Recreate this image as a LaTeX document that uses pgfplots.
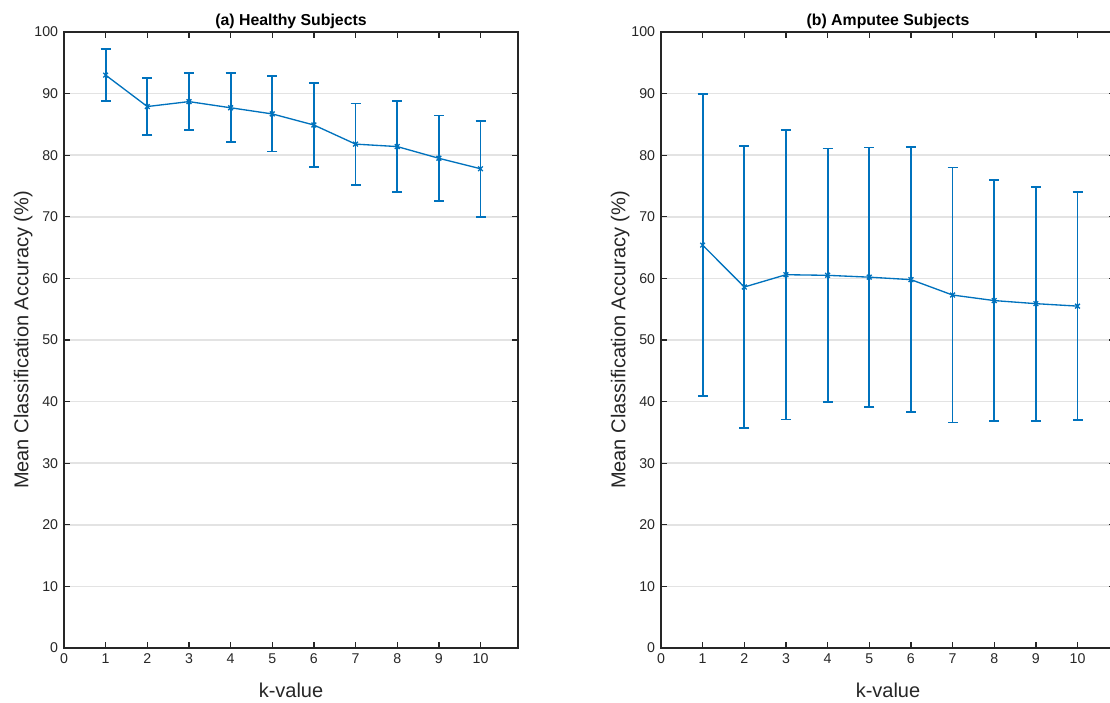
\documentclass[border=0pt]{standalone}
\usepackage{fontspec}
\setmainfont{Liberation Sans}
\usepackage{pgfplots}
\pgfplotsset{compat=1.18}
\usepackage{pgfplotstable}

\definecolor{mblue}{HTML}{0072BD}
\definecolor{axgray}{HTML}{262626}
\definecolor{gridgray}{HTML}{E3E3E3}

% k, mean accuracy, standard deviation
\pgfplotstableread{
k  m     e
1  93.0  4.25
2  87.9  4.65
3  88.7  4.60
4  87.7  5.60
5  86.7  6.10
6  84.9  6.80
7  81.8  6.60
8  81.4  7.35
9  79.5  6.95
10 77.8  7.80
}\healthy

\pgfplotstableread{
k  m     e
1  65.4  24.50
2  58.6  22.85
3  60.6  23.50
4  60.5  20.60
5  60.2  21.05
6  59.8  21.55
7  57.3  20.70
8  56.4  19.60
9  55.9  19.00
10 55.5  18.55
}\amputee

\pgfplotsset{
  panel/.style={
    scale only axis,
    width=272.4pt, height=369.6pt,
    anchor=south west,
    xmin=0, xmax=10.9, ymin=0, ymax=100,
    xtick={0,...,10}, ytick={0,10,...,100},
    tick align=inside,
    major tick length=3.5pt,
    axis line style={axgray, line width=0.9pt},
    every tick/.style={axgray, line width=0.8pt},
    ymajorgrids,
    grid style={gridgray, line width=1pt},
    ticklabel style={font=\fontsize{8.5}{10}\selectfont, text=axgray},
    /pgf/number format/assume math mode=true,
    label style={font=\fontsize{12}{14}\selectfont, text=axgray},
    xlabel={k-value},
    ylabel={Mean Classification Accuracy (\%)},
    xlabel style={at={(axis description cs:0.5,-0.068)}, anchor=center},
    ylabel style={at={(axis description cs:-0.09,0.5)}, anchor=center},
    title style={at={(axis description cs:0.5,1)}, anchor=base, yshift=-2pt,
      font=\bfseries\fontsize{9.5}{11}\selectfont, text=black},
  },
  series/.style={
    color=mblue, line width=0.8pt, mark=x, mark size=2pt,
    mark options={line width=0.8pt},
    error bars/.cd, y dir=both, y explicit,
    error bar style={line width=1.1pt, mblue},
    error mark options={rotate=90, mark size=3pt, line width=1.1pt, mblue},
  },
}

\begin{document}
\begin{tikzpicture}
\begin{axis}[panel, at={(38.4pt,32.4pt)}, title={(a) Healthy Subjects}]
\addplot+[series] table[x=k, y=m, y error=e] {\healthy};
\end{axis}
\begin{axis}[panel, at={(396.6pt,32.4pt)}, title={(b) Amputee Subjects}]
\addplot+[series] table[x=k, y=m, y error=e] {\amputee};
\end{axis}
\pgfresetboundingbox
\useasboundingbox (0,0) rectangle (666pt,421.2pt);
\end{tikzpicture}
\end{document}
